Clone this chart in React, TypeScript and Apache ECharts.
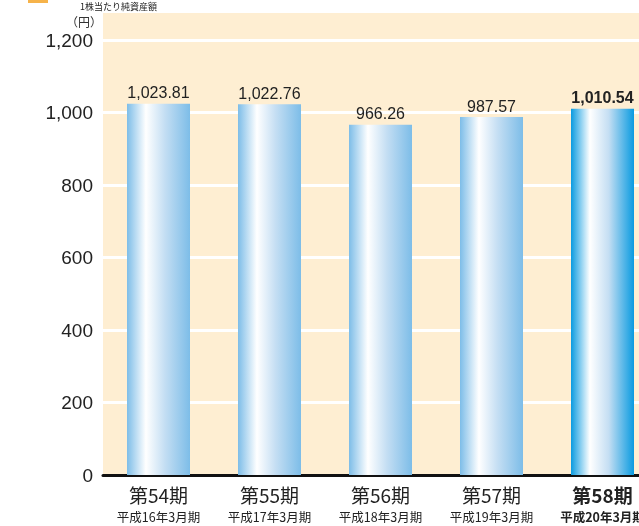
import React, { useEffect, useRef } from "react";
import * as echarts from "echarts";

const periods = ["第54期", "第55期", "第56期", "第57期", "第58期"];
const fiscalLabels = ["平成16年3月期", "平成17年3月期", "平成18年3月期", "平成19年3月期", "平成20年3月期"];
const values = [1023.81, 1022.76, 966.26, 987.57, 1010.54];
const yTicks = [0, 200, 400, 600, 800, 1000, 1200];

const fmt = (v: number) =>
  v.toLocaleString("en-US", { minimumFractionDigits: 2, maximumFractionDigits: 2 });

const grad = (edge: string) =>
  new echarts.graphic.LinearGradient(0, 0, 1, 0, [
    { offset: 0, color: edge },
    { offset: 0.3, color: "#ffffff" },
    { offset: 0.6, color: "#c4def3" },
    { offset: 1, color: edge },
  ]);

const jp = "'Noto Sans CJK JP', 'Noto Sans', sans-serif";
const latin = "'Liberation Sans', Arial, sans-serif";

export default function App() {
  const ref = useRef<HTMLDivElement>(null);
  useEffect(() => {
    const chart = echarts.init(ref.current!, undefined, { renderer: "svg" });
    const last = values.length - 1;
    chart.setOption({
      animation: false,
      textStyle: { fontFamily: jp },
      graphic: [
        { type: "rect", z: -10, shape: { x: 103, y: 13, width: 560, height: 462 }, style: { fill: "#feeed2" } },
        { type: "rect", shape: { x: 28, y: 0, width: 20, height: 3 }, style: { fill: "#f6b34a" } },
        {
          type: "text",
          left: 80,
          top: 2,
          style: { text: "1株当たり純資産額", fontSize: 9, fill: "#222", fontFamily: jp },
        },
        {
          type: "text",
          left: 66,
          top: 15,
          style: { text: "（円）", fontSize: 12, fill: "#333", fontFamily: jp },
        },
      ],
      grid: { left: 103, top: 40, right: 2, bottom: 51, containLabel: false },
      xAxis: {
        type: "category",
        data: periods,
        axisLine: { lineStyle: { color: "#111", width: 3 } },
        axisTick: { show: false },
        axisLabel: {
          interval: 0,
          margin: 6,
          formatter: (v: string, i: number) =>
            i === last ? `{bb|${v}}\n{bs|${fiscalLabels[i]}}` : `{b|${v}}\n{s|${fiscalLabels[i]}}`,
          rich: {
            b: { fontSize: 19, color: "#222", lineHeight: 26, fontFamily: jp },
            s: { fontSize: 12.5, color: "#222", lineHeight: 18, fontFamily: jp },
            bb: { fontSize: 19, color: "#222", lineHeight: 26, fontWeight: "bold", fontFamily: jp },
            bs: { fontSize: 12.5, color: "#222", lineHeight: 18, fontWeight: "bold", fontFamily: jp },
          },
        },
      },
      yAxis: {
        type: "value",
        min: yTicks[0],
        max: yTicks[yTicks.length - 1],
        interval: 200,
        axisLine: { show: false },
        axisTick: { show: false },
        splitLine: { lineStyle: { color: "#ffffff", width: 3 } },
        axisLabel: {
          margin: 10,
          fontSize: 19,
          color: "#222",
          fontFamily: latin,
          formatter: (v: number) => v.toLocaleString("en-US"),
        },
      },
      series: [
        {
          type: "bar",
          barWidth: 63,
          data: values.map((v, i) => ({
            value: v,
            itemStyle: { color: grad(i === last ? "#0a9be0" : "#7dbde8") },
            label: {
              show: true,
              position: "top",
              distance: 3,
              formatter: () => fmt(v),
              fontSize: 16,
              color: "#222",
              fontWeight: i === last ? "bold" : "normal",
              fontFamily: latin,
            },
          })),
        },
      ],
    });
    return () => chart.dispose();
  }, []);
  return <div ref={ref} style={{ position: "fixed", left: 0, top: 0, width: 660, height: 526 }} />;
}
